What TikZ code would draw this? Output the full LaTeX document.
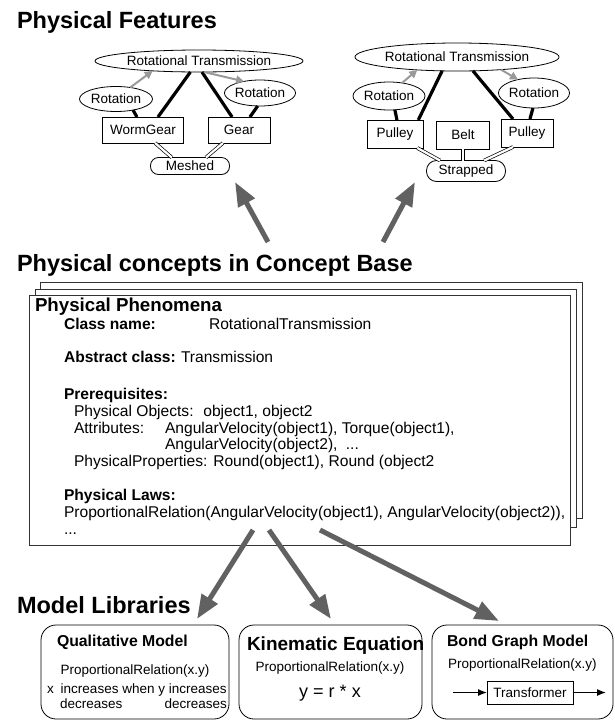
\documentclass[tikz,border=0pt]{standalone}
\usepackage{fontspec}
\setmainfont{Liberation Sans}
\usetikzlibrary{shapes.geometric,arrows.meta,calc}
\newcommand\setfsz[1]{\fontsize{#1}{#1}\selectfont}
\begin{document}
\begin{tikzpicture}[x=1pt,y=-1pt,
  every node/.style={inner sep=0pt, outer sep=0pt},
  ell/.style={draw, ellipse, line width=0.8pt, font=\setfsz{13.5}},
  cbox/.style={draw, rectangle, line width=0.8pt, font=\setfsz{13.5}},
  pill/.style={draw, rectangle, line width=0.8pt, font=\setfsz{13.5}},
  bar/.style={line width=3.2pt},
  garrow/.style={draw=black!40, line width=2pt, -{Triangle[length=8pt,width=8pt]}},
  dbl/.style={double, double distance=2.2pt, line width=0.7pt},
  bigarrow/.style={draw=black!62, line width=5pt, -{Triangle[length=24pt,width=18pt]}},
  title/.style={font=\bfseries\setfsz{23.5}, anchor=base west},
  txt/.style={font=\setfsz{15.6}, anchor=base west},
  btxt/.style={font=\bfseries\setfsz{15.6}, anchor=base west},
  lib/.style={draw, line width=0.8pt, rounded corners=15pt},
  small/.style={font=\setfsz{13.5}, anchor=base},
  layer/.style={draw=black!80, fill=white, line width=0.8pt}
]
\useasboundingbox (0,0) rectangle (615,721);

% ---------- titles
\node[title] (t1) at (17,28) {Physical Features};
\node[title] (t2) at (17,271) {Physical concepts in Concept Base};
\node[title] (t3) at (17,613) {Model Libraries};

% ---------- left cluster
\node[ell, minimum width=208, minimum height=22] (rtL) at (199,61) {Rotational Transmission};
\node[ell, minimum width=73, minimum height=25] (rotLL) at (116,99) {Rotation};
\node[ell, minimum width=66, minimum height=26] (rotLR) at (260,93) {Rotation};
\node[cbox, minimum width=81, minimum height=26] (wg) at (143,130) {WormGear};
\node[cbox, minimum width=62, minimum height=26] (gear) at (239,130) {Gear};
\node[pill, rounded corners=8pt, minimum width=79, minimum height=17] (mesh) at (190,166) {Meshed};

\draw[bar] (rotLL.-33) -- (wg.115);
\draw[bar] (rtL.-128) -- (wg.41);
\draw[bar] (rtL.-75) -- (gear.118);
\draw[bar] (rotLR.-100) -- (gear.50);
\draw[garrow] (rotLL.39) -- (rtL.-168);
\draw[garrow] (rtL.-66) -- (rotLR.144);
\draw[dbl] (wg.-47) -- (mesh.155);
\draw[dbl] (gear.-141) -- (mesh.28);

% ---------- right cluster
\node[ell, minimum width=191, minimum height=28] (rtR) at (457,57) {Rotational Transmission};
\node[ell, minimum width=72, minimum height=28] (rotRL) at (389,96) {Rotation};
\node[ell, minimum width=68, minimum height=30] (rotRR) at (534,93) {Rotation};
\node[cbox, minimum width=56, minimum height=28] (pL) at (395,134) {Pulley};
\node[cbox, minimum width=53, minimum height=28] (belt) at (463,135) {Belt};
\node[cbox, minimum width=52, minimum height=28] (pR) at (527,133) {Pulley};
\node[pill, rounded corners=10pt, minimum width=79, minimum height=21] (strap) at (466,171) {Strapped};

\draw[bar] (rotRL.-67) -- (pL.82);
\draw[bar] (rtR.-137) -- (pL.31);
\draw[bar] (rtR.-41) -- (pR.135);
\draw[bar] (rotRR.-94) -- (pR.78);
\draw[garrow] (rotRL.45) -- (rtR.-162);
\draw[garrow] (rtR.-16) -- (rotRR.140);
\draw[dbl] (pL.-32) -- (strap.158);
\draw[dbl] (belt.south) -- (belt.south |- strap.north);
\draw[dbl] (pR.-135) -- (strap.30);

% ---------- upward arrows
\coordinate (u1s) at (268,242);
\coordinate (u1e) at (235,182);
\coordinate (u2s) at (383,242);
\coordinate (u2e) at (415,182);
\draw[bigarrow] (u1s) -- (u1e);
\draw[bigarrow] (u2s) -- (u2e);

% ---------- concept base box (stacked)
\draw[layer] (40,282) rectangle (582,518);
\draw[layer] (35,289) rectangle (576,527);
\node[layer, draw, anchor=north west, minimum width=541, minimum height=250] (cb) at (29,295) {};

\node[font=\bfseries\setfsz{18.7}, anchor=base west] (pp) at (35,311) {Physical Phenomena};
\node[btxt] (cn) at (64,329) {Class name:};
\node[txt] (cnv) at (209,329) {RotationalTransmission};
\node[btxt] (ac) at (64,362) {Abstract class:};
\node[txt] (acv) at (181,362) {Transmission};
\node[btxt] (pre) at (64,399) {Prerequisites:};
\node[txt] (po) at (74,416) {Physical Objects:\hspace{4pt} object1, object2};
\node[txt] (at) at (74,433) {Attributes:};
\node[txt] (atv1) at (165,433) {AngularVelocity(object1), Torque(object1),};
\node[txt] (atv2) at (165,449) {AngularVelocity(object2),\hspace{4pt} ...};
\node[txt] (pprop) at (74,466) {PhysicalProperties: Round(object1), Round (object2};
\node[btxt] (pl) at (64,500) {Physical Laws:};
\node[txt] (plv) at (64,517) {ProportionalRelation(AngularVelocity(object1), AngularVelocity(object2)),};
\node[txt] (dots) at (64,534) {...};

% ---------- downward arrows
\coordinate (d1s) at (253,530);
\coordinate (d1e) at (197,619);
\coordinate (d2s) at (269,530);
\coordinate (d2e) at (331,619);
\coordinate (d3s) at (320,530);
\coordinate (d3e) at (499,621);
\draw[bigarrow] (d1s) -- (d1e);
\draw[bigarrow] (d2s) -- (d2e);
\draw[bigarrow] (d3s) -- (d3e);

% ---------- model libraries
\draw[lib] (41,625) rectangle (229,719);
\draw[lib] (239,625) rectangle (422,719);
\draw[lib] (432,625) rectangle (613,719);

\node[font=\bfseries\setfsz{15.8}, anchor=base west] (qm) at (57,646) {Qualitative Model};
\node[small] (qm1) at (135,674) {ProportionalRelation(x.y)};
\node[font=\setfsz{13.5}, anchor=base west] (qm2) at (47,693) {x\hspace{7pt}increases when y increases};
\node[font=\setfsz{13.5}, anchor=base west] (qm3) at (60,708) {decreases};
\node[font=\setfsz{13.5}, anchor=base east] (qm4) at (227,708) {decreases};

\node[font=\bfseries\setfsz{19}, anchor=base west] (ke) at (247,650) {Kinematic Equation};
\node[small] (ke1) at (330,671) {ProportionalRelation(x.y)};
\node[font=\setfsz{18}, anchor=base] (ke2) at (330,697) {y = r * x};

\node[font=\bfseries\setfsz{15.8}, anchor=base west] (bg) at (447,646) {Bond Graph Model};
\node[font=\setfsz{13.5}, anchor=base west] (bg1) at (448,668) {ProportionalRelation(x.y)};
\node[cbox, minimum width=86, minimum height=23] (tr) at (530,692.5) {Transformer};
\coordinate (bgin) at (453,692.5);
\coordinate (bgout) at (606,692.5);
\draw[line width=1.2pt, -{Latex[length=9pt,width=7pt]}] (bgin) -- (tr.west);
\draw[line width=1.2pt, -{Latex[length=9pt,width=7pt]}] (tr.east) -- (bgout);
\end{tikzpicture}
\end{document}
